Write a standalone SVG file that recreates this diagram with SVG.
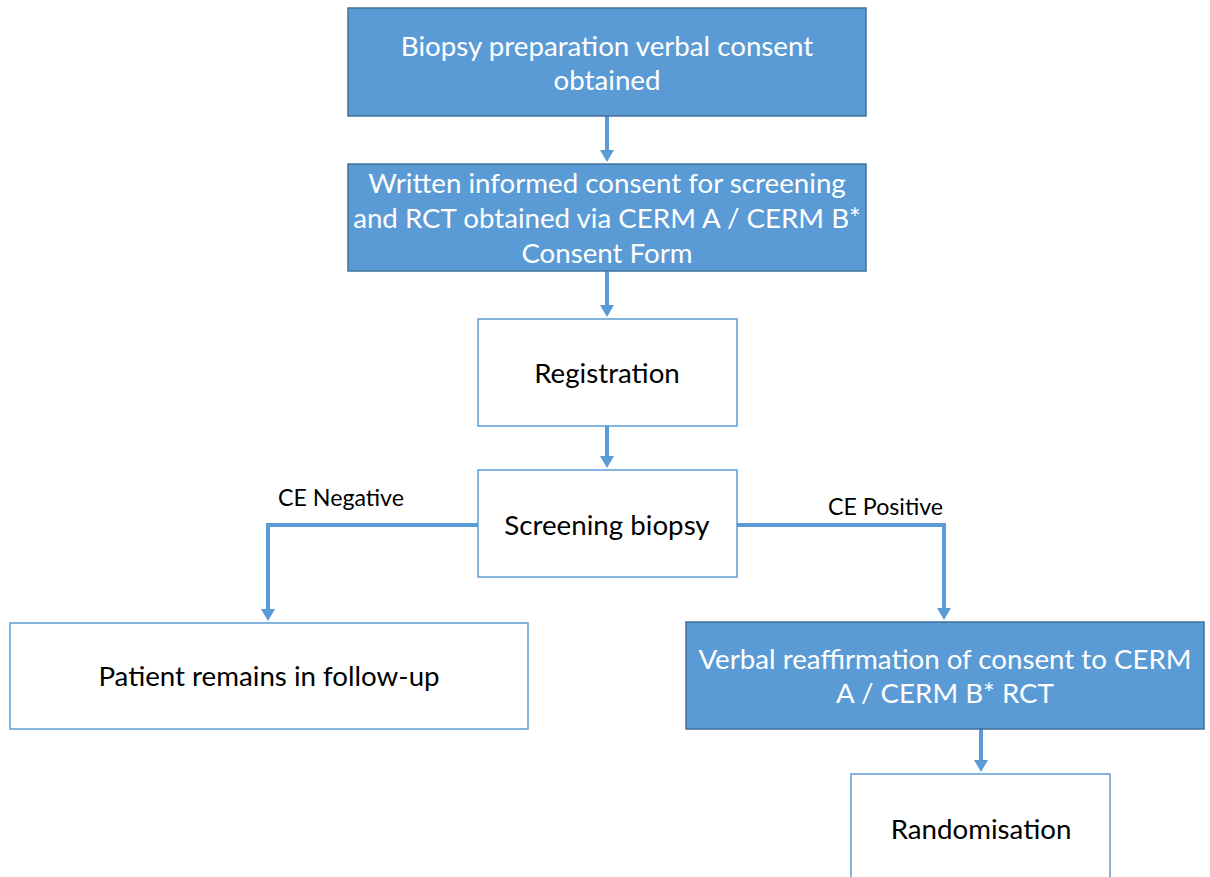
<svg xmlns="http://www.w3.org/2000/svg" width="1210" height="877" viewBox="0 0 1210 877">
<defs>
<style>
.blue{fill:#5B9BD5;stroke:#41719C;stroke-width:1.5}
.white{fill:#FFFFFF;stroke:#5B9BD5;stroke-width:1.5}
.tw{font-family:Lato,"Open Sans","Liberation Sans",sans-serif;font-size:27.7px;fill:#FFFFFF;text-anchor:middle;dominant-baseline:central}
.tb{font-family:Lato,"Open Sans","Liberation Sans",sans-serif;font-size:27.7px;fill:#000000;text-anchor:middle;dominant-baseline:central}
.lbl{font-family:Lato,"Open Sans","Liberation Sans",sans-serif;font-size:23.2px;fill:#000000;dominant-baseline:central}
.conn{fill:none;stroke:#5B9BD5;stroke-width:4;marker-end:url(#arr)}
</style>
<marker id="arr" markerWidth="4" markerHeight="3.5" refX="0.5" refY="1.75" orient="auto" markerUnits="strokeWidth">
<path d="M0,0 L3,1.75 L0,3.5 Z" fill="#5B9BD5"/>
</marker>
</defs>
<rect width="1210" height="877" fill="#FFFFFF"/>
<g id="connectors">
<path class="conn" d="M607,116 V152"/>
<path class="conn" d="M607,271 V307"/>
<path class="conn" d="M607,426 V458"/>
<path class="conn" d="M478,525 H268 V611"/>
<path class="conn" d="M737,525 H944 V610"/>
<path class="conn" d="M981,729 V762"/>
</g>
<g id="n1"><rect class="blue" x="348" y="8" width="518" height="108"/>
<text class="tw" x="607" y="45">Biopsy preparation verbal consent</text>
<text class="tw" x="607" y="79">obtained</text></g>
<g id="n2"><rect class="blue" x="348" y="164" width="518" height="107"/>
<text class="tw" x="607" y="182">Written informed consent for screening</text>
<text class="tw" x="607" y="217">and RCT obtained via CERM A / CERM B*</text>
<text class="tw" x="607" y="252">Consent Form</text></g>
<g id="n3"><rect class="white" x="478" y="319" width="259" height="107"/>
<text class="tb" x="607" y="372">Registration</text></g>
<g id="n4"><rect class="white" x="478" y="470" width="259" height="107"/>
<text class="tb" x="607" y="524">Screening biopsy</text></g>
<g id="n5"><rect class="white" x="10" y="623" width="518" height="106"/>
<text class="tb" x="269" y="675">Patient remains in follow-up</text></g>
<g id="n6"><rect class="blue" x="686" y="622" width="518" height="107"/>
<text class="tw" x="945" y="658">Verbal reaffirmation of consent to CERM</text>
<text class="tw" x="945" y="692">A / CERM B* RCT</text></g>
<g id="n7"><rect class="white" x="851" y="774" width="259" height="110"/>
<text class="tb" x="981" y="828">Randomisation</text></g>
<g id="labels">
<text class="lbl" x="278" y="497">CE Negative</text>
<text class="lbl" x="828" y="506">CE Positive</text>
</g>
</svg>
